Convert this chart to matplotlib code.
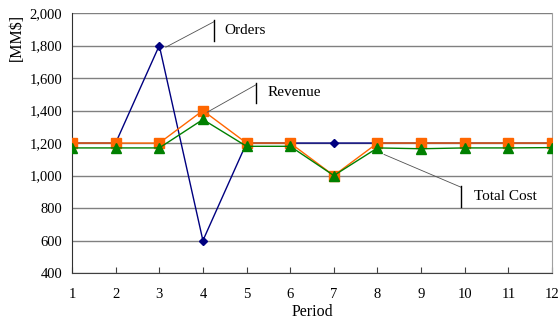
import matplotlib.pyplot as plt

plt.rcParams['font.family'] = ['Liberation Serif', 'DejaVu Serif']

periods = [1, 2, 3, 4, 5, 6, 7, 8, 9, 10, 11, 12]
orders = [1200, 1200, 1800, 600, 1200, 1200, 1200, 1200, 1200, 1200, 1200, 1200]
revenue = [1200, 1200, 1200, 1400, 1200, 1200, 1000, 1200, 1200, 1200, 1200, 1200]
total_cost = [1170, 1170, 1170, 1345, 1180, 1180, 1000, 1170, 1165, 1170, 1170, 1172]
y_ticks = [400, 600, 800, 1000, 1200, 1400, 1600, 1800, 2000]

fig = plt.figure(figsize=(5.59, 3.22), dpi=100)
ax = fig.add_axes([0.1288, 0.152, 0.8587, 0.8075])

ax.plot(periods, orders, '-D', color='#000080', lw=1.0, ms=4, zorder=3)
ax.plot(periods, revenue, '-s', color='#FF6600', lw=1.0, ms=6.5, zorder=4)
ax.plot(periods, total_cost, '-^', color='#008000', lw=1.0, ms=6.5, zorder=5)

ax.set_xlim(1, 12)
ax.set_ylim(400, 2000)
ax.set_xticks(periods)
ax.set_yticks(y_ticks)
ax.set_yticklabels([f'{v:,}' for v in y_ticks])
ax.tick_params(axis='x', direction='in', length=4, width=0.8, color='#404040',
               labelsize=10.5, pad=11)
ax.tick_params(axis='y', length=0, labelsize=10.5, pad=7)
ax.grid(axis='y', color='#808080', lw=1.0)
ax.set_axisbelow(True)
ax.spines['top'].set_visible(False)
ax.spines['right'].set_color('#a0a0a0')
ax.spines['right'].set_linewidth(0.8)
ax.spines['left'].set_color('#303030')
ax.spines['bottom'].set_color('#404040')

ax.set_xlabel('Period', fontsize=11.5, labelpad=2)
ax.set_ylabel('[MM$]', fontsize=11.5)
ax.yaxis.set_label_coords(-0.098, 0.905)

# series callouts: (label, leader start x, y, bar x, bar centre y, text x)
callouts = [
    ('Orders', 3.15, 1790, 4.25, 1895, 4.5),
    ('Revenue', 4.1, 1390, 5.22, 1508, 5.47),
    ('Total Cost', 8.15, 1130, 9.92, 870, 10.22),
]
bar_half = 64
for text, px, py, bx, by, tx in callouts:
    if by > py:
        end_y = by + bar_half * 0.8
    else:
        end_y = by + bar_half * 0.9
    ax.plot([px, bx], [py, end_y], color='#505050', lw=0.6, zorder=6)
    ax.plot([bx, bx], [by - bar_half, by + bar_half], color='black', lw=1.0,
            zorder=6)
    ax.text(tx, by, text, fontsize=11, va='center', ha='left', zorder=6)

fig.savefig('out.png', dpi=100)
